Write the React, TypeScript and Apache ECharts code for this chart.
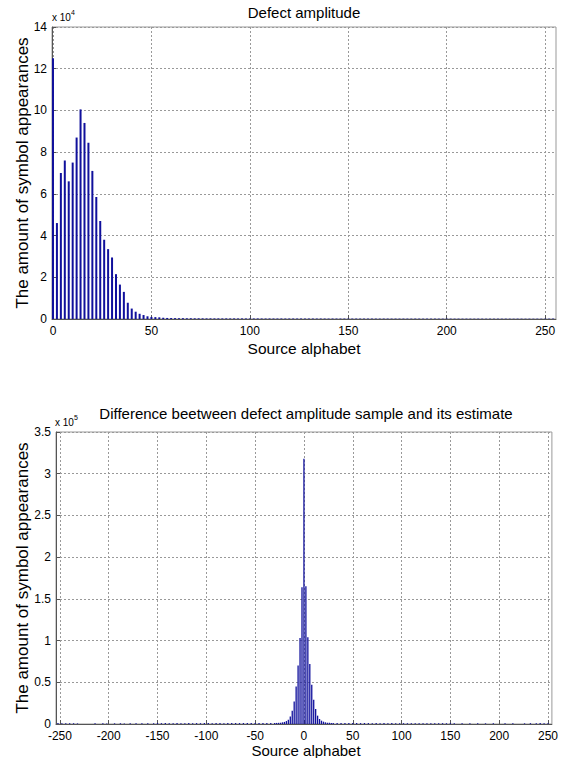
import React, { useEffect, useRef } from "react";
import * as echarts from "echarts";

// Top chart: defect amplitude histogram, bins at 0, 2, 4, ... (step 2)
const amplitudeBinStep = 2;
const amplitudeCounts = [
  125000, 46000, 70000, 76000, 66000, 75000, 87000, 100500, 94000, 84500,
  71000, 58500, 47000, 38000, 33500, 29500, 21500, 16500, 13000, 7800,
  5000, 3500, 2500, 1900, 1300, 1000, 900, 800, 600, 500,
  450, 420, 380, 400, 350, 360, 330, 340, 320, 300,
  310, 290, 300, 280, 300, 270, 290, 260, 280, 270,
  250, 260, 270, 250, 240, 260, 250, 240, 250, 230,
  240, 250, 230, 240, 220, 230, 240, 220, 230, 220,
  210, 230, 220, 210, 220, 200, 210, 220, 200, 210,
  200, 210, 200, 190, 210, 200, 190, 200, 190, 200,
  190, 180, 200, 190, 180, 190, 180, 190, 180, 170,
  190, 180, 170, 180, 170, 180, 170, 160, 180, 170,
  160, 170, 160, 170, 160, 170, 160, 150, 170, 160,
  150, 160, 150, 160, 150, 160, 170, 200,
];

// Bottom chart: difference between sample and estimate
const diffCenterX = [
  -24, -22, -20, -18, -16, -14, -12, -10, -8, -6, -4, -2, 0,
  2, 4, 6, 8, 10, 12, 14, 16, 18, 20, 22, 24,
];
const diffCenterCounts = [
  1500, 2000, 2500, 3500, 5000, 9000, 16000, 27000, 45000, 70000, 103000, 164000, 318000,
  165000, 104000, 72000, 47000, 29000, 18000, 10000, 6000, 4000, 2800, 2000, 1500,
];
const diffTailX = [
  -252, -248, -244, -240, -236, -232, -214, -206, -202, -194, -188, -184, -178, -172,
  -166, -160, -154, -150, -146, -142, -138, -134, -130, -126, -122, -118, -114, -110,
  -106, -102, -98, -94, -90, -86, -82, -78, -74, -70, -66, -62, -58, -54, -50, -46,
  -42, -38, -34, -30, -28, -26,
  26, 28, 30, 34, 38, 42, 46, 50, 54, 58, 62, 66, 70, 74, 78, 82, 86, 90, 94, 98,
  102, 106, 110, 114, 118, 122, 126, 130, 134, 138, 142, 146, 150, 154, 162, 170,
  178, 186, 194, 206, 214, 226, 232, 238, 242, 246, 250,
];
const diffTailCounts = [
  1100, 900, 1000, 800, 900, 700, 800, 900, 700, 800, 900, 700, 800, 900,
  1000, 800, 900, 1100, 1000, 1100, 900, 1000, 1100, 1000, 900, 1100, 1000, 1100,
  1000, 1200, 1100, 1000, 1200, 1100, 1000, 1200, 1100, 1200, 1100, 1200, 1100, 1200, 1300, 1200,
  1300, 1200, 1300, 1200, 1300, 1400,
  1400, 1300, 1200, 1300, 1200, 1300, 1200, 1100, 1200, 1100, 1200, 1100, 1000, 1100, 1000, 1100, 1000, 1100, 1000, 900,
  1000, 900, 1000, 900, 1000, 900, 1000, 900, 1000, 900, 1000, 900, 1000, 800, 900, 800,
  900, 800, 900, 800, 900, 800, 1000, 900, 1100, 1000, 900,
];

const topXTicks = [0, 50, 100, 150, 200, 250];
const bottomXTicks = [-250, -200, -150, -100, -50, 0, 50, 100, 150, 200, 250];

const FONT = "Liberation Sans, Arial, sans-serif";
const BAR = "#10109c";

export default function App() {
  const ref = useRef<HTMLDivElement>(null);
  useEffect(() => {
    const chart = echarts.init(ref.current!, null, { renderer: "svg" });
    const topData = amplitudeCounts.map((c, i) => [i * amplitudeBinStep, c]);
    const bottomData = [
      ...diffTailX.map((x, i) => [x, diffTailCounts[i]]),
      ...diffCenterX.map((x, i) => [x, diffCenterCounts[i]]),
    ];
    const split = { show: true, lineStyle: { color: "#999", type: [2, 2], width: 1 } };
    const axLine = { show: true, onZero: false, lineStyle: { color: "#555", width: 1 } };
    const tick = { show: true, inside: true, length: 4, lineStyle: { color: "#555" } };
    const lbl = { color: "#000", fontSize: 12, fontFamily: FONT };
    chart.setOption({
      animation: false,
      grid: [
        { left: 52, right: 5, top: 27, height: 292, show: true, borderColor: "#999", borderWidth: 1 },
        { left: 56, right: 5, top: 432, height: 292, show: true, borderColor: "#999", borderWidth: 1 },
      ],
      xAxis: [
        {
          type: "value", gridIndex: 0, min: -0.5, max: 255.5,
          axisLine: axLine,
          axisTick: { ...tick, customValues: topXTicks },
          splitLine: split,
          axisLabel: { ...lbl, margin: 6, lineHeight: 12, customValues: topXTicks },
        },
        {
          type: "value", gridIndex: 1, min: -254, max: 254,
          axisLine: axLine,
          axisTick: { ...tick, customValues: bottomXTicks },
          splitLine: split,
          axisLabel: { ...lbl, margin: 6, lineHeight: 12, customValues: bottomXTicks },
        },
      ],
      yAxis: [
        {
          type: "value", gridIndex: 0, min: 0, max: 140000, interval: 20000,
          axisLine: axLine, axisTick: tick, splitLine: split,
          axisLabel: { ...lbl, margin: 5, lineHeight: 12, formatter: (v: number) => String(v / 10000) },
        },
        {
          type: "value", gridIndex: 1, min: 0, max: 350000, interval: 50000,
          axisLine: axLine, axisTick: tick, splitLine: split,
          axisLabel: { ...lbl, margin: 5, lineHeight: 12, formatter: (v: number) => String(v / 100000) },
        },
      ],
      series: [
        {
          type: "bar", xAxisIndex: 0, yAxisIndex: 0, data: topData, barWidth: 2,
          clip: false, z: 5, itemStyle: { color: BAR },
        },
        {
          type: "bar", xAxisIndex: 1, yAxisIndex: 1, data: bottomData, barWidth: 1.3,
          clip: false, z: 5, itemStyle: { color: BAR },
        },
      ],
      graphic: [
        { type: "text", x: 304, y: 12, style: { text: "Defect amplitude", font: `15px ${FONT}`, fill: "#000", align: "center", verticalAlign: "middle" } },
        { type: "text", x: 52, y: 17, style: { text: "x 10", font: `10px ${FONT}`, fill: "#000", align: "left", verticalAlign: "middle" } },
        { type: "text", x: 71, y: 12, style: { text: "4", font: `7px ${FONT}`, fill: "#000", align: "left", verticalAlign: "middle" } },
        { type: "text", x: 304, y: 348, style: { text: "Source alphabet", font: `15.5px ${FONT}`, fill: "#000", align: "center", verticalAlign: "middle" } },
        { type: "text", x: 22, y: 173, rotation: Math.PI / 2, style: { text: "The amount of symbol appearances", font: `17px ${FONT}`, fill: "#000", align: "center", verticalAlign: "middle" } },

        { type: "text", x: 306, y: 413, style: { text: "Difference beetween defect amplitude sample and its estimate", font: `15px ${FONT}`, fill: "#000", align: "center", verticalAlign: "middle" } },
        { type: "text", x: 55, y: 422, style: { text: "x 10", font: `10px ${FONT}`, fill: "#000", align: "left", verticalAlign: "middle" } },
        { type: "text", x: 74, y: 417, style: { text: "5", font: `7px ${FONT}`, fill: "#000", align: "left", verticalAlign: "middle" } },
        { type: "text", x: 306, y: 750, style: { text: "Source alphabet", font: `15px ${FONT}`, fill: "#000", align: "center", verticalAlign: "middle" } },
        { type: "text", x: 22, y: 578, rotation: Math.PI / 2, style: { text: "The amount of symbol appearances", font: `17px ${FONT}`, fill: "#000", align: "center", verticalAlign: "middle" } },
      ],
    });
    return () => chart.dispose();
  }, []);
  return <div ref={ref} style={{ position: "absolute", left: 0, top: 0, width: 561, height: 758 }} />;
}
